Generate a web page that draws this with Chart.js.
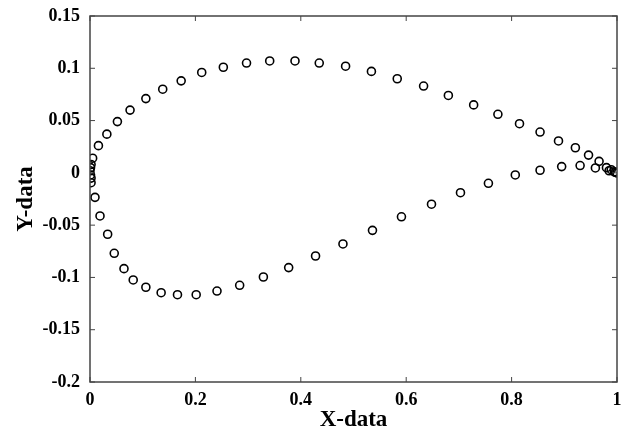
<!DOCTYPE html>
<html>
<head>
<meta charset="utf-8">
<script src="https://cdn.jsdelivr.net/npm/chart.js@4"></script>
<style>
  html, body { margin: 0; padding: 0; background: #fff; }
  #wrap { width: 625px; height: 434px; }
</style>
</head>
<body>
<div id="wrap"><canvas id="airfoil"></canvas></div>
<script>
// upper surface, leading edge to trailing edge
const upperX = [0.000, 0.001, 0.002, 0.005, 0.016, 0.032, 0.052, 0.076, 0.106, 0.138, 0.173, 0.212, 0.253, 0.297, 0.341, 0.389, 0.435, 0.485, 0.534, 0.583, 0.633, 0.680, 0.728, 0.774, 0.815, 0.854, 0.889, 0.921, 0.946, 0.966, 0.980, 0.989, 0.995, 1.000];
const upperY = [0.002, 0.005, 0.008, 0.014, 0.026, 0.037, 0.049, 0.060, 0.071, 0.080, 0.088, 0.096, 0.101, 0.105, 0.107, 0.107, 0.105, 0.102, 0.097, 0.090, 0.083, 0.074, 0.065, 0.056, 0.047, 0.039, 0.0305, 0.024, 0.017, 0.011, 0.005, 0.003, 0.001, 0.000];
// lower surface
const lowerX = [0.001, 0.002, 0.002, 0.0095, 0.019, 0.0335, 0.046, 0.0645, 0.082, 0.106, 0.135, 0.166, 0.2015, 0.241, 0.284, 0.329, 0.377, 0.428, 0.480, 0.536, 0.591, 0.648, 0.703, 0.756, 0.807, 0.854, 0.895, 0.930, 0.959, 0.985, 0.997];
const lowerY = [-0.002, -0.005, -0.0094, -0.0234, -0.0412, -0.0587, -0.0769, -0.0916, -0.1024, -0.1094, -0.1146, -0.1165, -0.1165, -0.113, -0.1075, -0.0996, -0.0906, -0.0795, -0.068, -0.055, -0.042, -0.030, -0.019, -0.010, -0.002, 0.0025, 0.006, 0.007, 0.0047, 0.002, 0.0005];

const xTicks = [0, 0.2, 0.4, 0.6, 0.8, 1];
const xTickLabels = ['0', '0.2', '0.4', '0.6', '0.8', '1'];
const yTicks = [0.15, 0.1, 0.05, 0, -0.05, -0.1, -0.15, -0.2];
const yTickLabels = ['0.15', '0.1', '0.05', '0', '-0.05', '-0.1', '-0.15', '-0.2'];

const points = upperX.map((x, i) => ({ x: x, y: upperY[i] }))
  .concat(lowerX.map((x, i) => ({ x: x, y: lowerY[i] })));

function labelFor(ticks, labels) {
  return function(value) {
    const i = ticks.findIndex(t => Math.abs(t - value) < 1e-9);
    return i >= 0 ? labels[i] : '';
  };
}

// matlab style box with inward ticks on all four sides
const boxPlugin = {
  id: 'box',
  afterDatasetsDraw(chart) {
    const ctx = chart.ctx;
    const a = chart.chartArea;
    const xs = chart.scales.x, ys = chart.scales.y;
    const len = 5;
    ctx.save();
    ctx.strokeStyle = '#444';
    ctx.lineWidth = 1.5;
    ctx.strokeRect(a.left, a.top, a.right - a.left, a.bottom - a.top);
    ctx.lineWidth = 1;
    ctx.beginPath();
    xTicks.forEach(v => {
      const px = xs.getPixelForValue(v);
      ctx.moveTo(px, a.bottom); ctx.lineTo(px, a.bottom - len);
      ctx.moveTo(px, a.top); ctx.lineTo(px, a.top + len);
    });
    yTicks.forEach(v => {
      const py = ys.getPixelForValue(v);
      ctx.moveTo(a.left, py); ctx.lineTo(a.left + len, py);
      ctx.moveTo(a.right, py); ctx.lineTo(a.right - len, py);
    });
    ctx.stroke();
    ctx.restore();
  }
};

const tickFont = { family: 'Liberation Serif', size: 18, weight: 'bold' };
const titleFont = { family: 'Liberation Serif', size: 23, weight: 'bold' };

new Chart(document.getElementById('airfoil'), {
  type: 'scatter',
  data: {
    datasets: [{
      data: points,
      pointStyle: 'circle',
      pointRadius: 4,
      pointBorderWidth: 1.6,
      pointBorderColor: '#000',
      pointBackgroundColor: 'rgba(0,0,0,0)'
    }]
  },
  options: {
    responsive: true,
    maintainAspectRatio: false,
    animation: false,
    layout: { padding: { top: 16, right: 8, bottom: 0, left: 0 } },
    plugins: { legend: { display: false }, tooltip: { enabled: false } },
    scales: {
      x: {
        type: 'linear',
        min: 0, max: 1,
        afterFit: s => { s.height = 52; },
        afterBuildTicks: s => { s.ticks = xTicks.map(v => ({ value: v })); },
        grid: { display: false },
        border: { display: false },
        ticks: { color: '#000', font: tickFont, padding: 0, maxRotation: 0, callback: labelFor(xTicks, xTickLabels) },
        title: { display: true, text: 'X-data', color: '#000', font: titleFont, padding: { top: 0, bottom: 0 } }
      },
      y: {
        type: 'linear',
        min: -0.2, max: 0.15,
        afterFit: s => { s.width = 90; },
        afterBuildTicks: s => { s.ticks = yTicks.map(v => ({ value: v })); },
        grid: { display: false },
        border: { display: false },
        ticks: { color: '#000', font: tickFont, padding: 2, callback: labelFor(yTicks, yTickLabels) },
        title: { display: true, text: 'Y-data', color: '#000', font: titleFont, padding: { top: 12, bottom: 0 } }
      }
    }
  },
  plugins: [boxPlugin]
});
</script>
</body>
</html>
